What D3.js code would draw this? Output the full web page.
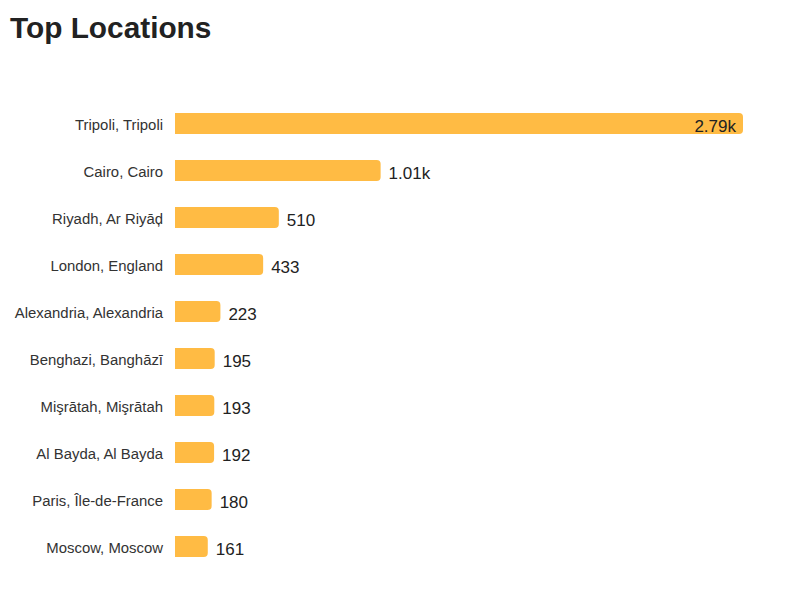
<!DOCTYPE html>
<html>
<head>
<meta charset="utf-8">
<script src="https://cdn.jsdelivr.net/npm/d3@7"></script>
<style>
  html, body { margin: 0; padding: 0; background: #fff; }
  svg { display: block; font-family: "Liberation Sans", Arial, sans-serif; }
</style>
</head>
<body>
<svg id="chart" width="800" height="600"></svg>
<script>
const categories = [
  "Tripoli, Tripoli",
  "Cairo, Cairo",
  "Riyadh, Ar Riyāḑ",
  "London, England",
  "Alexandria, Alexandria",
  "Benghazi, Banghāzī",
  "Mişrātah, Mişrātah",
  "Al Bayda, Al Bayda",
  "Paris, Île-de-France",
  "Moscow, Moscow"
];
const values = [2790, 1010, 510, 433, 223, 195, 193, 192, 180, 161];
const valueLabels = ["2.79k", "1.01k", "510", "433", "223", "195", "193", "192", "180", "161"];

const data = categories.map((c, i) => ({ name: c, value: values[i], label: valueLabels[i] }));

const svg = d3.select("#chart");

svg.append("text")
  .attr("x", 10)
  .attr("y", 38)
  .attr("font-size", 29.8)
  .attr("font-weight", "bold")
  .attr("fill", "#222")
  .text("Top Locations");

const x = d3.scaleLinear().domain([0, d3.max(values)]).range([175, 743]);
const y = d3.scaleBand().domain(categories).range([100, 570])
  .paddingInner(0.553).paddingOuter(0.2765);

const r = 4;
function barPath(d) {
  const x0 = x(0), x1 = x(d.value), y0 = y(d.name), h = y.bandwidth();
  const rr = Math.min(r, (x1 - x0) / 2, h / 2);
  return `M${x0},${y0}H${x1 - rr}Q${x1},${y0} ${x1},${y0 + rr}V${y0 + h - rr}Q${x1},${y0 + h} ${x1 - rr},${y0 + h}H${x0}Z`;
}

svg.append("g").selectAll("path")
  .data(data).join("path")
  .attr("d", barPath)
  .attr("fill", "#ffbb44");

svg.append("g").selectAll("text")
  .data(data).join("text")
  .attr("x", 163)
  .attr("y", d => y(d.name) + y.bandwidth() / 2 + 1)
  .attr("dy", "0.35em")
  .attr("text-anchor", "end")
  .attr("font-size", 14.9)
  .attr("fill", "#333")
  .text(d => d.name);

svg.append("g").selectAll("text")
  .data(data).join("text")
  .attr("x", (d, i) => i === 0 ? x(d.value) - 7 : x(d.value) + 8)
  .attr("y", d => y(d.name) + y.bandwidth() / 2 + 2.5)
  .attr("dy", "0.35em")
  .attr("text-anchor", (d, i) => i === 0 ? "end" : "start")
  .attr("font-size", 17)
  .attr("fill", "#222")
  .text(d => d.label);
</script>
</body>
</html>
